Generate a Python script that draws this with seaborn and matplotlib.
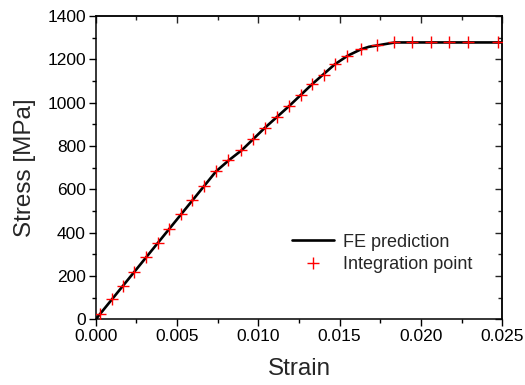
import matplotlib
matplotlib.use("Agg")
import matplotlib.pyplot as plt
from matplotlib.lines import Line2D
from matplotlib.ticker import MultipleLocator, FormatStrFormatter
import seaborn as sns
import pandas as pd

# FE prediction curve
fe_strain = [0.0, 0.0074, 0.0082, 0.0090, 0.0104, 0.0119, 0.0133, 0.0147,
             0.0155, 0.0163, 0.0168, 0.0173, 0.0176, 0.0184, 0.0250]
fe_stress = [0, 683, 735, 782, 884, 985, 1085, 1177,
             1217, 1246, 1258, 1264, 1268, 1278, 1278]

# Integration point values
ip_strain = [0.00026, 0.00098, 0.00168, 0.00237, 0.00309, 0.00383, 0.00453,
             0.00523, 0.00594, 0.00666, 0.00738, 0.00815, 0.00893, 0.00967,
             0.01041, 0.01117, 0.01189, 0.01260, 0.01330, 0.01404, 0.01473,
             0.01547, 0.01629, 0.01728, 0.01834, 0.01943, 0.02062, 0.02174,
             0.02291, 0.02472]
ip_stress = [24, 92, 154, 220, 288, 354, 417, 486, 549, 615, 683, 735,
             783, 833, 884, 935, 985, 1035, 1085, 1128, 1177, 1217, 1246,
             1267, 1278, 1278, 1278, 1278, 1278, 1278]

sns.set_style("ticks")
plt.rcParams["font.family"] = ["Liberation Sans", "DejaVu Sans"]

fig = plt.figure(figsize=(5.25, 3.85), dpi=100)
ax = fig.add_axes([0.1823, 0.1706, 0.7745, 0.7878])

fe = pd.DataFrame({"strain": fe_strain, "stress": fe_stress})
ip = pd.DataFrame({"strain": ip_strain, "stress": ip_stress})

sns.lineplot(data=fe, x="strain", y="stress", ax=ax, color="black",
             linewidth=1.9, sort=False, zorder=2)
sns.scatterplot(data=ip, x="strain", y="stress", ax=ax, marker="+",
                color="red", s=70, linewidth=1.0, zorder=3)

ax.set_xlim(0, 0.025)
ax.set_ylim(0, 1400)
ax.xaxis.set_major_locator(MultipleLocator(0.005))
ax.xaxis.set_minor_locator(MultipleLocator(0.0025))
ax.yaxis.set_major_locator(MultipleLocator(200))
ax.yaxis.set_minor_locator(MultipleLocator(100))
ax.xaxis.set_major_formatter(FormatStrFormatter("%.3f"))

ax.set_xlabel("Strain", fontsize=17.5, labelpad=10)
ax.set_ylabel("Stress [MPa]", fontsize=17.5, labelpad=8)

for s in ax.spines.values():
    s.set_visible(True)
    s.set_linewidth(1.1)
    s.set_color("black")

ax.tick_params(which="major", direction="out", length=5, width=1.0,
               labelsize=12.5, colors="black", pad=2)
ax.tick_params(which="minor", direction="out", length=3, width=1.0,
               colors="black")

# inward ticks on top and right edges
top = ax.secondary_xaxis("top")
top.xaxis.set_major_locator(MultipleLocator(0.005))
top.xaxis.set_minor_locator(MultipleLocator(0.0025))
top.tick_params(which="major", direction="in", length=5, width=1.0, labeltop=False)
top.tick_params(which="minor", direction="in", length=3, width=1.0)
top.spines["top"].set_linewidth(1.1)

right = ax.secondary_yaxis("right")
right.yaxis.set_major_locator(MultipleLocator(200))
right.yaxis.set_minor_locator(MultipleLocator(100))
right.tick_params(which="major", direction="in", length=5, width=1.0, labelright=False)
right.tick_params(which="minor", direction="in", length=3, width=1.0)
right.spines["right"].set_linewidth(1.1)

handles = [
    Line2D([], [], color="black", linewidth=1.9),
    Line2D([], [], color="red", marker="+", linestyle="none",
           markersize=8.5, markeredgewidth=1.0),
]
ax.legend(handles, ["FE prediction", "Integration point"], loc="center left",
          bbox_to_anchor=(0.465, 0.217), frameon=False, fontsize=13,
          handlelength=2.3, handletextpad=0.55, labelspacing=0.3,
          borderaxespad=0)

fig.savefig("out.png", dpi=100)
